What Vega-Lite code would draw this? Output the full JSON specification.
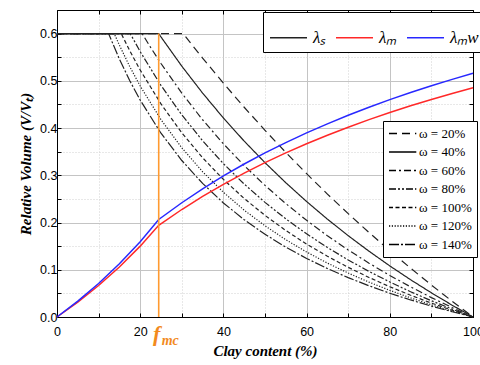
{
"$schema":"https://vega.github.io/schema/vega-lite/v6.json",
"width":416,"height":307,
"autosize":{"type":"none"},
"padding":{"left":57,"top":10,"right":7,"bottom":48},
"background":"white",
"config":{"view":{"stroke":"black","strokeWidth":1},"font":"Liberation Sans"},
"datasets":{
"lams":[
{"w":"ω = 20%","s":"λₛ","x":0,"y":0.6},{"w":"ω = 20%","s":"λₛ","x":30.35,"y":0.6},{"w":"ω = 20%","s":"λₛ","x":32.5,"y":0.5758},{"w":"ω = 20%","s":"λₛ","x":35,"y":0.5483},{"w":"ω = 20%","s":"λₛ","x":40,"y":0.495},{"w":"ω = 20%","s":"λₛ","x":45,"y":0.4441},{"w":"ω = 20%","s":"λₛ","x":50,"y":0.3953},{"w":"ω = 20%","s":"λₛ","x":55,"y":0.3484},{"w":"ω = 20%","s":"λₛ","x":60,"y":0.3035},{"w":"ω = 20%","s":"λₛ","x":65,"y":0.2603},{"w":"ω = 20%","s":"λₛ","x":70,"y":0.2188},{"w":"ω = 20%","s":"λₛ","x":75,"y":0.1789},{"w":"ω = 20%","s":"λₛ","x":80,"y":0.1404},{"w":"ω = 20%","s":"λₛ","x":85,"y":0.1034},{"w":"ω = 20%","s":"λₛ","x":90,"y":0.0677},{"w":"ω = 20%","s":"λₛ","x":95,"y":0.0333},{"w":"ω = 20%","s":"λₛ","x":100,"y":0},
{"w":"ω = 40%","s":"λₛ","x":0,"y":0.6},{"w":"ω = 40%","s":"λₛ","x":24.45,"y":0.6},{"w":"ω = 40%","s":"λₛ","x":25,"y":0.5929},{"w":"ω = 40%","s":"λₛ","x":30,"y":0.5311},{"w":"ω = 40%","s":"λₛ","x":35,"y":0.4741},{"w":"ω = 40%","s":"λₛ","x":40,"y":0.4213},{"w":"ω = 40%","s":"λₛ","x":45,"y":0.3724},{"w":"ω = 40%","s":"λₛ","x":50,"y":0.3268},{"w":"ω = 40%","s":"λₛ","x":55,"y":0.2843},{"w":"ω = 40%","s":"λₛ","x":60,"y":0.2445},{"w":"ω = 40%","s":"λₛ","x":65,"y":0.2072},{"w":"ω = 40%","s":"λₛ","x":70,"y":0.1722},{"w":"ω = 40%","s":"λₛ","x":75,"y":0.1393},{"w":"ω = 40%","s":"λₛ","x":80,"y":0.1082},{"w":"ω = 40%","s":"λₛ","x":85,"y":0.0789},{"w":"ω = 40%","s":"λₛ","x":90,"y":0.0512},{"w":"ω = 40%","s":"λₛ","x":95,"y":0.0249},{"w":"ω = 40%","s":"λₛ","x":100,"y":0},
{"w":"ω = 60%","s":"λₛ","x":0,"y":0.6},{"w":"ω = 60%","s":"λₛ","x":20.47,"y":0.6},{"w":"ω = 60%","s":"λₛ","x":22.5,"y":0.5708},{"w":"ω = 60%","s":"λₛ","x":25,"y":0.5367},{"w":"ω = 60%","s":"λₛ","x":30,"y":0.4739},{"w":"ω = 60%","s":"λₛ","x":35,"y":0.4176},{"w":"ω = 60%","s":"λₛ","x":40,"y":0.3667},{"w":"ω = 60%","s":"λₛ","x":45,"y":0.3206},{"w":"ω = 60%","s":"λₛ","x":50,"y":0.2786},{"w":"ω = 60%","s":"λₛ","x":55,"y":0.2401},{"w":"ω = 60%","s":"λₛ","x":60,"y":0.2047},{"w":"ω = 60%","s":"λₛ","x":65,"y":0.1721},{"w":"ω = 60%","s":"λₛ","x":70,"y":0.142},{"w":"ω = 60%","s":"λₛ","x":75,"y":0.114},{"w":"ω = 60%","s":"λₛ","x":80,"y":0.088},{"w":"ω = 60%","s":"λₛ","x":85,"y":0.0638},{"w":"ω = 60%","s":"λₛ","x":90,"y":0.0411},{"w":"ω = 60%","s":"λₛ","x":95,"y":0.0199},{"w":"ω = 60%","s":"λₛ","x":100,"y":0},
{"w":"ω = 80%","s":"λₛ","x":0,"y":0.6},{"w":"ω = 80%","s":"λₛ","x":17.61,"y":0.6},{"w":"ω = 80%","s":"λₛ","x":20,"y":0.5618},{"w":"ω = 80%","s":"λₛ","x":25,"y":0.4902},{"w":"ω = 80%","s":"λₛ","x":30,"y":0.4279},{"w":"ω = 80%","s":"λₛ","x":35,"y":0.3731},{"w":"ω = 80%","s":"λₛ","x":40,"y":0.3247},{"w":"ω = 80%","s":"λₛ","x":45,"y":0.2815},{"w":"ω = 80%","s":"λₛ","x":50,"y":0.2427},{"w":"ω = 80%","s":"λₛ","x":55,"y":0.2078},{"w":"ω = 80%","s":"λₛ","x":60,"y":0.1761},{"w":"ω = 80%","s":"λₛ","x":65,"y":0.1472},{"w":"ω = 80%","s":"λₛ","x":70,"y":0.1208},{"w":"ω = 80%","s":"λₛ","x":75,"y":0.0965},{"w":"ω = 80%","s":"λₛ","x":80,"y":0.0742},{"w":"ω = 80%","s":"λₛ","x":85,"y":0.0535},{"w":"ω = 80%","s":"λₛ","x":90,"y":0.0344},{"w":"ω = 80%","s":"λₛ","x":95,"y":0.0166},{"w":"ω = 80%","s":"λₛ","x":100,"y":0},
{"w":"ω = 100%","s":"λₛ","x":0,"y":0.6},{"w":"ω = 100%","s":"λₛ","x":15.44,"y":0.6},{"w":"ω = 100%","s":"λₛ","x":17.5,"y":0.5636},{"w":"ω = 100%","s":"λₛ","x":20,"y":0.5229},{"w":"ω = 100%","s":"λₛ","x":25,"y":0.4511},{"w":"ω = 100%","s":"λₛ","x":30,"y":0.39},{"w":"ω = 100%","s":"λₛ","x":35,"y":0.3372},{"w":"ω = 100%","s":"λₛ","x":40,"y":0.2913},{"w":"ω = 100%","s":"λₛ","x":45,"y":0.2509},{"w":"ω = 100%","s":"λₛ","x":50,"y":0.2151},{"w":"ω = 100%","s":"λₛ","x":55,"y":0.1831},{"w":"ω = 100%","s":"λₛ","x":60,"y":0.1544},{"w":"ω = 100%","s":"λₛ","x":65,"y":0.1286},{"w":"ω = 100%","s":"λₛ","x":70,"y":0.1051},{"w":"ω = 100%","s":"λₛ","x":75,"y":0.0837},{"w":"ω = 100%","s":"λₛ","x":80,"y":0.0641},{"w":"ω = 100%","s":"λₛ","x":85,"y":0.0461},{"w":"ω = 100%","s":"λₛ","x":90,"y":0.0295},{"w":"ω = 100%","s":"λₛ","x":95,"y":0.0142},{"w":"ω = 100%","s":"λₛ","x":100,"y":0},
{"w":"ω = 120%","s":"λₛ","x":0,"y":0.6},{"w":"ω = 120%","s":"λₛ","x":13.76,"y":0.6},{"w":"ω = 120%","s":"λₛ","x":15,"y":0.5755},{"w":"ω = 120%","s":"λₛ","x":17.5,"y":0.53},{"w":"ω = 120%","s":"λₛ","x":20,"y":0.489},{"w":"ω = 120%","s":"λₛ","x":25,"y":0.4178},{"w":"ω = 120%","s":"λₛ","x":30,"y":0.3582},{"w":"ω = 120%","s":"λₛ","x":35,"y":0.3076},{"w":"ω = 120%","s":"λₛ","x":40,"y":0.2641},{"w":"ω = 120%","s":"λₛ","x":45,"y":0.2262},{"w":"ω = 120%","s":"λₛ","x":50,"y":0.1931},{"w":"ω = 120%","s":"λₛ","x":55,"y":0.1637},{"w":"ω = 120%","s":"λₛ","x":60,"y":0.1376},{"w":"ω = 120%","s":"λₛ","x":65,"y":0.1141},{"w":"ω = 120%","s":"λₛ","x":70,"y":0.093},{"w":"ω = 120%","s":"λₛ","x":75,"y":0.0739},{"w":"ω = 120%","s":"λₛ","x":80,"y":0.0564},{"w":"ω = 120%","s":"λₛ","x":85,"y":0.0405},{"w":"ω = 120%","s":"λₛ","x":90,"y":0.0259},{"w":"ω = 120%","s":"λₛ","x":95,"y":0.0124},{"w":"ω = 120%","s":"λₛ","x":100,"y":0},
{"w":"ω = 140%","s":"λₛ","x":0,"y":0.6},{"w":"ω = 140%","s":"λₛ","x":12.4,"y":0.6},{"w":"ω = 140%","s":"λₛ","x":15,"y":0.5461},{"w":"ω = 140%","s":"λₛ","x":17.5,"y":0.5002},{"w":"ω = 140%","s":"λₛ","x":20,"y":0.4592},{"w":"ω = 140%","s":"λₛ","x":25,"y":0.3891},{"w":"ω = 140%","s":"λₛ","x":30,"y":0.3313},{"w":"ω = 140%","s":"λₛ","x":35,"y":0.2828},{"w":"ω = 140%","s":"λₛ","x":40,"y":0.2415},{"w":"ω = 140%","s":"λₛ","x":45,"y":0.206},{"w":"ω = 140%","s":"λₛ","x":50,"y":0.1751},{"w":"ω = 140%","s":"λₛ","x":55,"y":0.148},{"w":"ω = 140%","s":"λₛ","x":60,"y":0.124},{"w":"ω = 140%","s":"λₛ","x":65,"y":0.1026},{"w":"ω = 140%","s":"λₛ","x":70,"y":0.0834},{"w":"ω = 140%","s":"λₛ","x":75,"y":0.0661},{"w":"ω = 140%","s":"λₛ","x":80,"y":0.0504},{"w":"ω = 140%","s":"λₛ","x":85,"y":0.0361},{"w":"ω = 140%","s":"λₛ","x":90,"y":0.023},{"w":"ω = 140%","s":"λₛ","x":95,"y":0.0111},{"w":"ω = 140%","s":"λₛ","x":100,"y":0}
],
"lamm":[
{"s":"λₘ","x":0,"y":0},{"s":"λₘ","x":5,"y":0.0316},{"s":"λₘ","x":10,"y":0.0667},{"s":"λₘ","x":15,"y":0.1059},{"s":"λₘ","x":20,"y":0.15},{"s":"λₘ","x":24.45,"y":0.1942},{"s":"λₘ","x":30,"y":0.2276},{"s":"λₘ","x":35,"y":0.2553},{"s":"λₘ","x":40,"y":0.2809},{"s":"λₘ","x":45,"y":0.3047},{"s":"λₘ","x":50,"y":0.3268},{"s":"λₘ","x":55,"y":0.3474},{"s":"λₘ","x":60,"y":0.3667},{"s":"λₘ","x":65,"y":0.3848},{"s":"λₘ","x":70,"y":0.4018},{"s":"λₘ","x":75,"y":0.4178},{"s":"λₘ","x":80,"y":0.4329},{"s":"λₘ","x":85,"y":0.4471},{"s":"λₘ","x":90,"y":0.4606},{"s":"λₘ","x":95,"y":0.4733},{"s":"λₘ","x":100,"y":0.4854},
{"s":"λₘw","x":0,"y":0},{"s":"λₘw","x":5,"y":0.0336},{"s":"λₘw","x":10,"y":0.0709},{"s":"λₘw","x":15,"y":0.1126},{"s":"λₘw","x":20,"y":0.1595},{"s":"λₘw","x":24.45,"y":0.2064},{"s":"λₘw","x":30,"y":0.2419},{"s":"λₘw","x":35,"y":0.2714},{"s":"λₘw","x":40,"y":0.2986},{"s":"λₘw","x":45,"y":0.3239},{"s":"λₘw","x":50,"y":0.3474},{"s":"λₘw","x":55,"y":0.3693},{"s":"λₘw","x":60,"y":0.3898},{"s":"λₘw","x":65,"y":0.409},{"s":"λₘw","x":70,"y":0.4271},{"s":"λₘw","x":75,"y":0.4441},{"s":"λₘw","x":80,"y":0.4602},{"s":"λₘw","x":85,"y":0.4753},{"s":"λₘw","x":90,"y":0.4896},{"s":"λₘw","x":95,"y":0.5031},{"s":"λₘw","x":100,"y":0.516}
],
"fmc":[{"x":24.45,"y0":0,"y1":0.6,"f":"f","mc":"mc"}]
},
"layer":[
{"data":{"name":"lams"},
 "mark":{"type":"line","strokeWidth":1.2},
 "encoding":{
  "x":{"field":"x","type":"quantitative","scale":{"domain":[0,100],"nice":false},
   "axis":{"orient":"bottom","values":[0,10,20,30,40,50,60,70,80,90,100],"labelExpr":"datum.value % 20 == 0 ? datum.label : ''","format":"d",
    "grid":true,"gridColor":{"condition":{"test":"datum.value % 20 != 0","value":"#d0d0d0"},"value":"#c4c4c4"},"gridDash":{"condition":{"test":"datum.value % 20 != 0","value":[1,2]},"value":[]},"gridWidth":1,
    "tickSize":-4,"tickColor":"black","domainColor":"black","labelColor":"black","labelFontSize":12.5,"labelPadding":12,"labelFlush":false,
    "title":"Clay content (%)","titleFont":"Liberation Serif","titleFontStyle":"italic","titleFontWeight":"bold","titleFontSize":15,"titleColor":"black","titlePadding":6}},
  "y":{"field":"y","type":"quantitative","scale":{"domain":[0,0.65],"nice":false},
   "axis":{"orient":"left","values":[0,0.05,0.1,0.15,0.2,0.25,0.3,0.35,0.4,0.45,0.5,0.55,0.6],"labelExpr":"round(datum.value*100) % 10 == 0 ? format(datum.value, '.1f') : ''",
    "grid":true,"gridColor":{"condition":{"test":"round(datum.value*100) % 10 != 0","value":"#d0d0d0"},"value":"#c4c4c4"},"gridDash":{"condition":{"test":"round(datum.value*100) % 10 != 0","value":[1,2]},"value":[]},"gridWidth":1,
    "tickSize":-4,"tickColor":"black","domainColor":"black","labelColor":"black","labelFontSize":12.5,"labelPadding":4,"labelFlush":false,
    "title":"Relative Volume (V/Vₜ)","titleFont":"Liberation Serif","titleFontStyle":"italic","titleFontWeight":"bold","titleFontSize":15,"titleColor":"black","titlePadding":6}},
  "strokeDash":{"field":"w","type":"nominal",
   "scale":{"domain":["ω = 20%","ω = 40%","ω = 60%","ω = 80%","ω = 100%","ω = 120%","ω = 140%"],
    "range":[[8,5],[1,0],[7,3,2,3],[7,2,2,2,2,2],[4,2.5],[1.2,1.6],[10,2,2,2]]},
   "legend":{"title":null,"orient":"none","legendX":326,"legendY":111,"symbolType":"M-1,0H3.2","symbolSize":169,"symbolStrokeColor":"black","symbolStrokeWidth":1.3,
    "labelFont":"Liberation Serif","labelFontSize":13,"labelColor":"black","fillColor":"white","strokeColor":"black","padding":5,"rowPadding":3.5,"labelOffset":16}},
  "color":{"field":"s","type":"nominal",
   "scale":{"domain":["λₛ","λₘ","λₘw"],"range":["#222222","#ff2828","#2828ff"]},
   "legend":{"title":null,"orient":"none","legendX":206,"legendY":2,"direction":"horizontal","symbolType":"stroke","symbolSize":1369,"symbolStrokeWidth":1.6,
    "labelFont":"Liberation Serif","labelFontStyle":"italic","labelFontSize":17,"labelColor":"black","fillColor":"white","strokeColor":"black","padding":6,"columnPadding":6,"labelOffset":5}}
 }},
{"data":{"name":"lamm"},
 "mark":{"type":"line","strokeWidth":1.5},
 "encoding":{
  "x":{"field":"x","type":"quantitative","axis":{"orient":"top","values":[0,10,20,30,40,50,60,70,80,90,100],"labels":false,"title":null,"grid":false,"tickSize":-4,"tickColor":"black","domainColor":"black"}},
  "y":{"field":"y","type":"quantitative","axis":{"orient":"right","values":[0,0.05,0.1,0.15,0.2,0.25,0.3,0.35,0.4,0.45,0.5,0.55,0.6],"labels":false,"title":null,"grid":false,"tickSize":-4,"tickColor":"black","domainColor":"black"}},
  "color":{"field":"s","type":"nominal"}
 }},
{"data":{"name":"fmc"},
 "mark":{"type":"rule","color":"#ff9a30","strokeWidth":1.6},
 "encoding":{
  "x":{"field":"x","type":"quantitative","axis":null},
  "y":{"field":"y0","type":"quantitative","axis":null},
  "y2":{"field":"y1"}
 }},
{"data":{"name":"fmc"},
 "mark":{"type":"text","font":"Liberation Serif","fontStyle":"italic","fontWeight":"bold","fontSize":22,"color":"#f28a1e","align":"center","baseline":"alphabetic","dy":24,"dx":-2},
 "encoding":{
  "x":{"field":"x","type":"quantitative","axis":null},
  "y":{"datum":0,"type":"quantitative","axis":null},
  "text":{"field":"f"}
 }},
{"data":{"name":"fmc"},
 "mark":{"type":"text","font":"Liberation Serif","fontStyle":"italic","fontWeight":"bold","fontSize":14,"color":"#f28a1e","align":"left","baseline":"alphabetic","dy":28,"dx":3},
 "encoding":{
  "x":{"field":"x","type":"quantitative","axis":null},
  "y":{"datum":0,"type":"quantitative","axis":null},
  "text":{"field":"mc"}
 }}
],
"resolve":{"axis":{"x":"independent","y":"independent"}}
}
